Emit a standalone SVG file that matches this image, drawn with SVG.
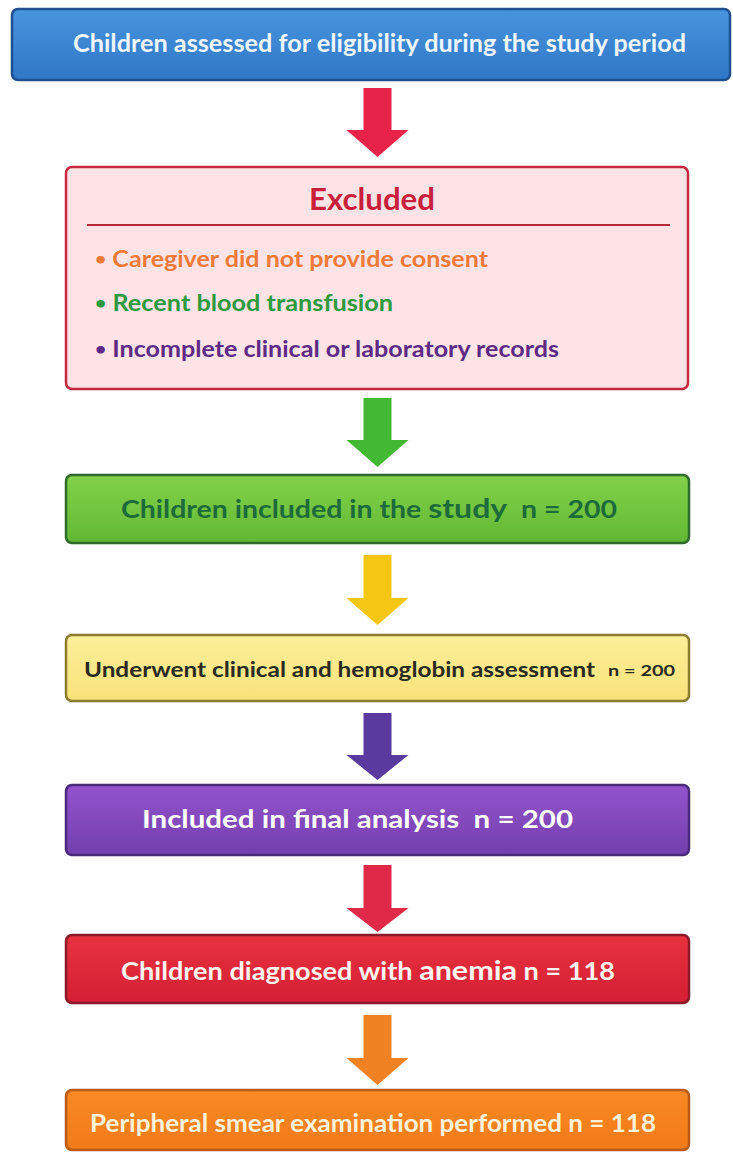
<svg xmlns="http://www.w3.org/2000/svg" width="733" height="1152" viewBox="0 0 733 1152">
<style>
.t{font-family:Lato,"Open Sans","Liberation Sans",sans-serif;font-weight:700}
.box{stroke-width:2.5}
.dot{font-size:17px}
</style>
<defs>
<linearGradient id="gBlue" x1="0" y1="0" x2="0" y2="1"><stop offset="0" stop-color="#4894de"/><stop offset="1" stop-color="#2f77c6"/></linearGradient>
<linearGradient id="gGreen" x1="0" y1="0" x2="0" y2="1"><stop offset="0" stop-color="#82d24a"/><stop offset="1" stop-color="#62b833"/></linearGradient>
<linearGradient id="gYellow" x1="0" y1="0" x2="0" y2="1"><stop offset="0" stop-color="#fcef9a"/><stop offset="1" stop-color="#f8e27a"/></linearGradient>
<linearGradient id="gPurple" x1="0" y1="0" x2="0" y2="1"><stop offset="0" stop-color="#9353cb"/><stop offset="1" stop-color="#733fae"/></linearGradient>
<linearGradient id="gRed" x1="0" y1="0" x2="0" y2="1"><stop offset="0" stop-color="#e8323f"/><stop offset="1" stop-color="#d41f35"/></linearGradient>
<linearGradient id="gOrange" x1="0" y1="0" x2="0" y2="1"><stop offset="0" stop-color="#f88a24"/><stop offset="1" stop-color="#f27a18"/></linearGradient>
</defs>
<rect width="733" height="1152" fill="#ffffff"/>

<g id="connectors">
<path d="M363.5 88 H391.5 V130 H408.5 L377.5 157 L346.5 130 H363.5 Z" fill="#e8234a"/>
<path d="M363.5 398 H391.5 V440 H408.5 L377.5 467 L346.5 440 H363.5 Z" fill="#43b833"/>
<path d="M363.5 555 H391.5 V598 H408.5 L377.5 625 L346.5 598 H363.5 Z" fill="#f5c612"/>
<path d="M363.5 713 H391.5 V755 H408.5 L377.5 780 L346.5 755 H363.5 Z" fill="#5a3a9e"/>
<path d="M363.5 865 H391.5 V908 H408.5 L377.5 932 L346.5 908 H363.5 Z" fill="#e02848"/>
<path d="M363.5 1015 H391.5 V1058 H408.5 L377.5 1085 L346.5 1058 H363.5 Z" fill="#f08224"/>
</g>

<g id="assessed">
<rect class="box" x="12" y="9" width="718" height="71" rx="6" fill="url(#gBlue)" stroke="#1e4f8f"/>
<text class="t" x="73" y="52" font-size="24" fill="#eef6ff" textLength="613" lengthAdjust="spacingAndGlyphs">Children assessed for eligibility during the study period</text>
</g>

<g id="excluded">
<rect class="box" x="66" y="167" width="622" height="222" rx="6" fill="#fde3e5" stroke="#c52a42"/>
<text class="t" x="309" y="210" font-size="30" fill="#c8203c" textLength="126" lengthAdjust="spacingAndGlyphs">Excluded</text>
<line x1="87" y1="225" x2="670" y2="225" stroke="#b8283c" stroke-width="2"/>
<text class="t" x="95" y="267" font-size="22" fill="#ef7a3a" textLength="393" lengthAdjust="spacingAndGlyphs"><tspan class="dot" dy="-2">•</tspan><tspan dy="2"> Caregiver did not provide consent</tspan></text>
<text class="t" x="95" y="311" font-size="22" fill="#2e9a40" textLength="298" lengthAdjust="spacingAndGlyphs"><tspan class="dot" dy="-2">•</tspan><tspan dy="2"> Recent blood transfusion</tspan></text>
<text class="t" x="95" y="357" font-size="22" fill="#5e2a86" textLength="464" lengthAdjust="spacingAndGlyphs"><tspan class="dot" dy="-2">•</tspan><tspan dy="2"> Incomplete clinical or laboratory records</tspan></text>
</g>

<g id="included">
<rect class="box" x="66" y="475" width="623" height="68" rx="6" fill="url(#gGreen)" stroke="#2f6b2a"/>
<text class="t" x="121" y="518" font-size="24" fill="#1d6b3a" textLength="496" lengthAdjust="spacingAndGlyphs" xml:space="preserve">Children included in the <tspan font-size="27">study</tspan>  n = 200</text>
</g>

<g id="assessment">
<rect class="box" x="66" y="635" width="623" height="66" rx="6" fill="url(#gYellow)" stroke="#8b7d2e"/>
<text class="t" x="84" y="677" font-size="21" fill="#2b2a22" textLength="511" lengthAdjust="spacingAndGlyphs">Underwent clinical and hemoglobin assessment</text>
<text class="t" x="608" y="676" font-size="16" fill="#2b2a22" textLength="67" lengthAdjust="spacingAndGlyphs">n = 200</text>
</g>

<g id="final">
<rect class="box" x="66" y="785" width="623" height="70" rx="6" fill="url(#gPurple)" stroke="#4b2a7c"/>
<text class="t" x="142" y="828" font-size="25" fill="#ffffff" textLength="431" lengthAdjust="spacingAndGlyphs" xml:space="preserve">Included in final analysis  n = 200</text>
</g>

<g id="anemia">
<rect class="box" x="66" y="935" width="623" height="68" rx="6" fill="url(#gRed)" stroke="#8a1a28"/>
<text class="t" x="121" y="980" font-size="24" fill="#fff4f0" textLength="494" lengthAdjust="spacingAndGlyphs">Children diagnosed with <tspan font-size="27">anemia</tspan> n = 118</text>
</g>

<g id="smear">
<rect class="box" x="66" y="1090" width="623" height="60" rx="6" fill="url(#gOrange)" stroke="#b85a14"/>
<text class="t" x="90" y="1132" font-size="24" fill="#fff1d8" textLength="566" lengthAdjust="spacingAndGlyphs">Peripheral smear examination performed n = 118</text>
</g>
</svg>
